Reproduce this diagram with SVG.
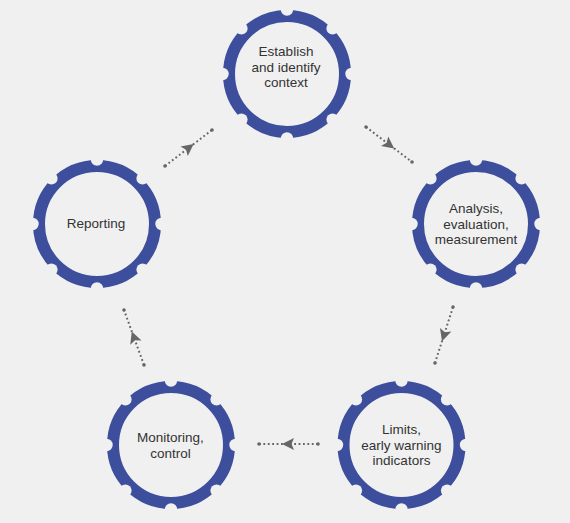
<svg xmlns="http://www.w3.org/2000/svg" xmlns:xlink="http://www.w3.org/1999/xlink" width="570" height="523" viewBox="0 0 570 523">
<style>
.lbl{font-family:"Liberation Sans","Noto Sans",Arial,sans-serif;font-size:13.5px;fill:#333;text-anchor:middle}
.con{fill:none;stroke:#666;stroke-width:2;stroke-dasharray:1.8 2.6}
.dot{fill:#666}
</style>
<defs>
<mask id="notches" maskUnits="userSpaceOnUse" x="-80" y="-80" width="160" height="160">
<rect x="-80" y="-80" width="160" height="160" fill="#fff"/>
<g fill="#000">
<circle cx="0" cy="-64.5" r="6.2"/>
<circle cx="45.6" cy="-45.6" r="6.2"/>
<circle cx="64.5" cy="0" r="6.2"/>
<circle cx="45.6" cy="45.6" r="6.2"/>
<circle cx="0" cy="64.5" r="6.2"/>
<circle cx="-45.6" cy="45.6" r="6.2"/>
<circle cx="-64.5" cy="0" r="6.2"/>
<circle cx="-45.6" cy="-45.6" r="6.2"/>
</g>
</mask>
<g id="gear">
<circle cx="0" cy="0" r="58" fill="none" stroke="#3c4e9c" stroke-width="12" mask="url(#notches)"/>
</g>
<marker id="head" markerUnits="userSpaceOnUse" markerWidth="16" markerHeight="16" viewBox="-13 -8 16 16" refX="-5.5" refY="0" orient="auto">
<path d="M1,0 L-11,-6 L-8.5,0 L-11,6 Z" fill="#666"/>
</marker>
</defs>
<rect x="0" y="0" width="570" height="523" fill="#f0f0f0"/>

<g id="connectors">
<path class="con" d="M366,127 L389,144.5 L412,162" marker-mid="url(#head)"/>
<circle class="dot" cx="366" cy="127" r="1.8"/><circle class="dot" cx="412" cy="162" r="1.8"/>
<path class="con" d="M453,307 L444,335 L435,363" marker-mid="url(#head)"/>
<circle class="dot" cx="453" cy="307" r="1.8"/><circle class="dot" cx="435" cy="363" r="1.8"/>
<path class="con" d="M318,444 L288.5,444 L259,444" marker-mid="url(#head)"/>
<circle class="dot" cx="318" cy="444" r="1.8"/><circle class="dot" cx="259" cy="444" r="1.8"/>
<path class="con" d="M144,365 L134,337.5 L124,310" marker-mid="url(#head)"/>
<circle class="dot" cx="144" cy="365" r="1.8"/><circle class="dot" cx="124" cy="310" r="1.8"/>
<path class="con" d="M165,166 L188.5,148 L212,130" marker-mid="url(#head)"/>
<circle class="dot" cx="165" cy="166" r="1.8"/><circle class="dot" cx="212" cy="130" r="1.8"/>
</g>

<g id="node-establish">
<use xlink:href="#gear" href="#gear" transform="translate(287,74)"/>
<text class="lbl" x="286" y="56">Establish</text>
<text class="lbl" x="286" y="71.5">and identify</text>
<text class="lbl" x="286" y="87">context</text>
</g>
<g id="node-analysis">
<use xlink:href="#gear" href="#gear" transform="translate(476,224)"/>
<text class="lbl" x="476" y="213">Analysis,</text>
<text class="lbl" x="476" y="228.5">evaluation,</text>
<text class="lbl" x="476" y="244">measurement</text>
</g>
<g id="node-limits">
<use xlink:href="#gear" href="#gear" transform="translate(401.5,445)"/>
<text class="lbl" x="401.5" y="434">Limits,</text>
<text class="lbl" x="401.5" y="449.5">early warning</text>
<text class="lbl" x="401.5" y="465">indicators</text>
</g>
<g id="node-monitoring">
<use xlink:href="#gear" href="#gear" transform="translate(171,445)"/>
<text class="lbl" x="170.5" y="442">Monitoring,</text>
<text class="lbl" x="170.5" y="457.5">control</text>
</g>
<g id="node-reporting">
<use xlink:href="#gear" href="#gear" transform="translate(97,224)"/>
<text class="lbl" x="96" y="228">Reporting</text>
</g>
</svg>
